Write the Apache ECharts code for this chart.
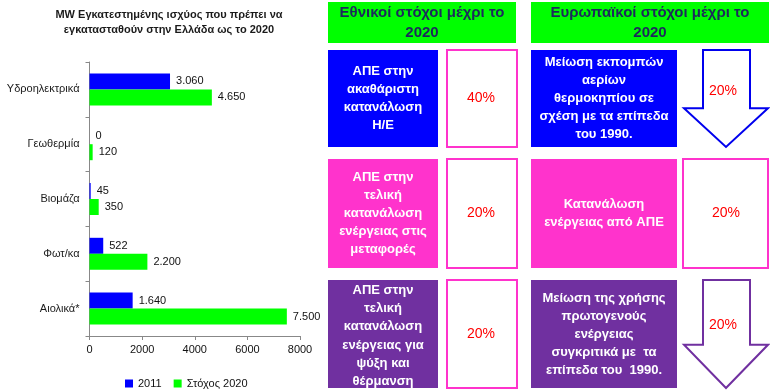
<!DOCTYPE html>
<html><head><meta charset="utf-8">
<script src="https://cdn.jsdelivr.net/npm/echarts@6/dist/echarts.min.js"></script>
<style>html,body{margin:0;padding:0;background:#fff}#c{width:770px;height:392px}</style>
</head><body><div id="c"></div>
<script>
var categories = ['Υδροηλεκτρικά', 'Γεωθερμία', 'Βιομάζα', 'Φωτ/κα', 'Αιολικά*'];
var values2011 = [3060, 0, 45, 522, 1640];
var target2020 = [4650, 120, 350, 2200, 7500];
var seriesNames = ['2011', 'Στόχος 2020'];
var xTicks = [0, 2000, 4000, 6000, 8000];
var chartTitle = 'MW Εγκατεστημένης ισχύος που πρέπει να\nεγκατασταθούν στην Ελλάδα ως το 2020';
var nationalHeader = 'Εθνικοί στόχοι μέχρι το\n2020';
var europeanHeader = 'Ευρωπαϊκοί στόχοι μέχρι το\n2020';
var nationalLabels = ['ΑΠΕ στην\nακαθάριστη\nκατανάλωση\nΗ/Ε', 'ΑΠΕ στην\nτελική\nκατανάλωση\nενέργειας στις\nμεταφορές', 'ΑΠΕ στην\nτελική\nκατανάλωση\nενέργειας για\nψύξη και\nθέρμανση'];
var nationalValues = ['40%', '20%', '20%'];
var europeanLabels = ['Μείωση εκπομπών\nαερίων\nθερμοκηπίου σε\nσχέση με τα επίπεδα\nτου 1990.', 'Κατανάλωση\nενέργειας από ΑΠΕ', 'Μείωση της χρήσης\nπρωτογενούς\nενέργειας\nσυγκριτικά με  τα\nεπίπεδα του  1990.'];
var europeanValues = ['20%', '20%', '20%'];

var FONT = 'Liberation Sans';
function fmt(v){ return String(v).replace(/\B(?=(\d{3})+(?!\d))/g, '.'); }

var rows = [
  {top: 50, bottom: 147, color: '#0000FF'},
  {top: 159, bottom: 268, color: '#FF33CC'},
  {top: 280, bottom: 388, color: '#7030A0'}
];
var g = [];
[[328, 516, nationalHeader], [531, 769, europeanHeader]].forEach(function(h){
  g.push({type:'rect', shape:{x:h[0], y:2, width:h[1]-h[0], height:41}, style:{fill:'#00FF00'}});
  g.push({type:'text', x:(h[0]+h[1])/2, y:23, style:{text:h[2], align:'center', verticalAlign:'middle', font:'bold 15px "'+FONT+'"', lineHeight:20, fill:'#1c2a5c'}});
});
rows.forEach(function(r, i){
  var mid = (r.top + r.bottom)/2;
  g.push({type:'rect', shape:{x:328, y:r.top, width:110, height:r.bottom-r.top}, style:{fill:r.color}});
  g.push({type:'text', x:383, y:mid + (i===2?2:0), style:{text:nationalLabels[i], align:'center', verticalAlign:'middle', font:'bold 13px "'+FONT+'"', lineHeight:18.2, fill:'#fff'}});
  g.push({type:'rect', shape:{x:447, y:r.top, width:70, height:r.bottom-r.top}, style:{fill:'#fff', stroke:'#FF33CC', lineWidth:2}});
  g.push({type:'text', x:481, y:mid, style:{text:nationalValues[i], align:'center', verticalAlign:'middle', font:'14px "'+FONT+'"', fill:'#FF0000'}});
  g.push({type:'rect', shape:{x:531, y:r.top, width:146, height:r.bottom-r.top}, style:{fill:r.color}});
  g.push({type:'text', x:604, y:mid, style:{text:europeanLabels[i], align:'center', verticalAlign:'middle', font:'bold 13px "'+FONT+'"', lineHeight:18, fill:'#fff'}});
  if (i === 1) {
    g.push({type:'rect', shape:{x:683, y:r.top, width:85, height:r.bottom-r.top}, style:{fill:'#fff', stroke:'#FF33CC', lineWidth:2}});
    g.push({type:'text', x:726, y:mid, style:{text:europeanValues[i], align:'center', verticalAlign:'middle', font:'14px "'+FONT+'"', fill:'#FF0000'}});
  } else {
    var headY = r.top + (r.bottom - r.top) * 0.6;
    var stroke = i === 0 ? '#0000EE' : '#7030A0';
    g.push({type:'polygon', shape:{points:[[703,r.top],[750,r.top],[750,headY],[768,headY],[726,r.bottom],[684,headY],[703,headY]]}, style:{fill:'#fff', stroke:stroke, lineWidth:2}});
    g.push({type:'text', x:723, y:r.top + (r.bottom-r.top)*0.42, style:{text:europeanValues[i], align:'center', verticalAlign:'middle', font:'14px "'+FONT+'"', fill:'#FF0000'}});
  }
});
g.push({type:'text', x:169, y:22, style:{text:chartTitle, align:'center', verticalAlign:'middle', font:'bold 11px "'+FONT+'"', lineHeight:15, fill:'#1a1a1a'}});

var chart = echarts.init(document.getElementById('c'));
var labelStyle = {show:true, position:'right', distance:6, color:'#111', fontFamily:FONT, fontSize:11, formatter:function(p){return fmt(p.value);}};
chart.setOption({
  animation:false,
  textStyle:{fontFamily:FONT},
  grid:{left:89.5, right:470, top:62, bottom:56, containLabel:false},
  legend:{data:seriesNames, left:120, top:373, itemWidth:8, itemHeight:8, itemGap:12, icon:'rect', textStyle:{fontFamily:FONT, fontSize:11, color:'#111'}},
  xAxis:{type:'value', min:xTicks[0], max:xTicks[xTicks.length-1], interval:2000, splitLine:{show:false},
    axisLine:{show:true, lineStyle:{color:'#888'}}, axisTick:{show:true, length:4, lineStyle:{color:'#888'}},
    axisLabel:{color:'#111', fontSize:11, margin:8, formatter:function(v){return String(v);}}},
  yAxis:{type:'category', data:categories, inverse:true,
    axisLine:{show:true, lineStyle:{color:'#888'}}, axisTick:{show:true, length:4, lineStyle:{color:'#888'}},
    axisLabel:{color:'#1a1a1a', fontSize:11, margin:10}},
  series:[
    {name:seriesNames[0], type:'bar', data:values2011, itemStyle:{color:'#0000FF'}, barWidth:16, barGap:'0%', label:labelStyle},
    {name:seriesNames[1], type:'bar', data:target2020, itemStyle:{color:'#00FF00'}, barWidth:16, barGap:'0%', label:labelStyle}
  ],
  graphic:g
});
</script></body></html>
